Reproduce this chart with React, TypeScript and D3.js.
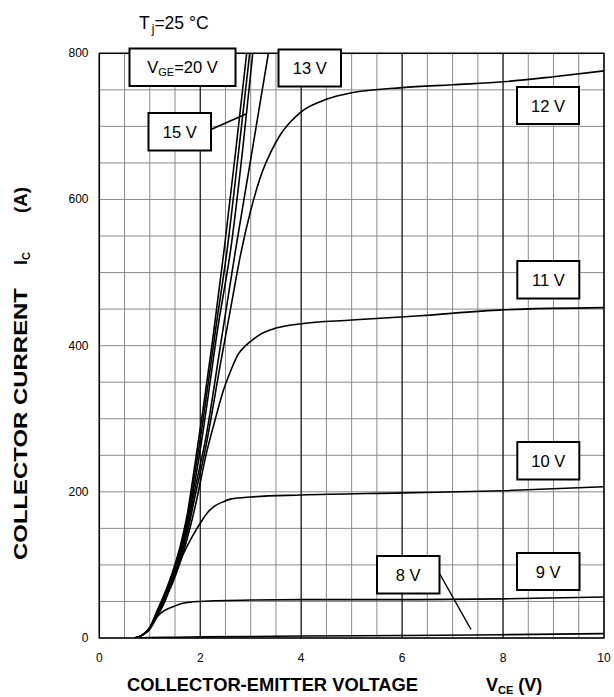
import React from "react";
import * as d3 from "d3";

type Pt = [number, number];

const xTicks = [0, 2, 4, 6, 8, 10];
const yTicks = [0, 200, 400, 600, 800];
const xMinor = d3.range(0, 10.01, 0.5);
const yMinor = d3.range(0, 800.1, 50);
const xMajor = [2, 4, 6, 8];

const curve20: Pt[] = [[0.7,0],[0.85,4],[1.0,14],[1.15,38],[1.3,62],[1.45,90],[1.6,125],[1.75,172],[1.9,240],[2.05,310],[2.25,410],[2.48,535],[2.7,665],[2.92,800],[3.0,850]];
const curve17: Pt[] = [[0.7,0],[0.85,4],[1.0,14],[1.15,37],[1.3,60],[1.45,87],[1.6,121],[1.75,166],[1.9,228],[2.05,295],[2.3,420],[2.54,535],[2.76,665],[2.98,800],[3.05,845]];
const curve15: Pt[] = [[0.7,0],[0.85,4],[1.0,14],[1.15,36],[1.3,58],[1.45,84],[1.6,117],[1.75,160],[1.9,216],[2.05,280],[2.35,425],[2.62,540],[2.84,668],[3.04,800],[3.1,840]];
const curve13: Pt[] = [[0.7,0],[0.85,4],[1.0,13],[1.15,35],[1.3,56],[1.45,81],[1.6,113],[1.75,153],[1.9,205],[2.1,270],[2.4,400],[2.7,531],[3.0,655],[3.2,738],[3.35,800],[3.45,845]];
const curve12: Pt[] = [[0.7,0],[0.85,4],[1.0,13],[1.15,34],[1.3,54],[1.45,78],[1.6,108],[1.75,146],[1.9,195],[2.1,258],[2.4,375],[2.6,450],[2.8,525],[3.0,585],[3.2,632],[3.4,665],[3.6,690],[3.8,707],[4.0,720],[4.5,737],[5,746],[6,753],[7,757],[8,761],[9,768],[10,776]];
const curve11: Pt[] = [[0.7,0],[0.85,4],[1.0,13],[1.15,33],[1.3,52],[1.45,75],[1.6,103],[1.75,138],[1.9,180],[2.13,255],[2.3,300],[2.46,339],[2.6,365],[2.75,388],[2.9,400],[3.0,406],[3.2,416],[3.5,424],[4.0,430],[5,435],[6.36,441],[8,449],[10,452]];
const curve10: Pt[] = [[0.7,0],[0.85,4],[1.0,12],[1.15,30],[1.3,50],[1.45,80],[1.6,105],[1.75,127],[1.9,146],[2.0,157],[2.15,172],[2.3,181],[2.46,186.5],[2.6,190],[3,193],[4,195.6],[6,198.5],[8,201.5],[10,207]];
const curve9: Pt[] = [[0.7,0],[0.85,4],[1.0,13],[1.1,25],[1.2,33],[1.3,38],[1.47,43],[1.6,46.5],[1.8,49],[2,50],[3,52],[4,52.5],[6,52.5],[8,53.5],[10,56]];
const curve8: Pt[] = [[0.7,0],[1.0,0.5],[1.5,1],[2,1.5],[3,2],[4,2.7],[6,3.5],[8,4.5],[10,6]];

const curves: Pt[][] = [curve20, curve17, curve15, curve13, curve12, curve11, curve10, curve9, curve8];

const boxLabels = [
  { t: "13 V", x: 278.5, y: 49.5, w: 62.5, h: 37 },
  { t: "15 V", x: 148.5, y: 113, w: 62.5, h: 37.5 },
  { t: "12 V", x: 517, y: 87, w: 62, h: 37 },
  { t: "11 V", x: 517.3, y: 261, w: 62, h: 37.5 },
  { t: "10 V", x: 517.3, y: 442, w: 62, h: 37.5 },
  { t: "9 V", x: 517, y: 553, w: 62.5, h: 37 },
  { t: "8 V", x: 377, y: 556, w: 62.5, h: 37.5 },
];

const FONT = "'Liberation Sans', Arial, Helvetica, sans-serif";

export default function App() {
  const left = 99.3, right = 604, top = 53.3, bottom = 638;
  const x = d3.scaleLinear().domain([0, 10]).range([left, right]);
  const y = d3.scaleLinear().domain([0, 800]).range([bottom, top]);
  const line = d3
    .line<Pt>()
    .x((d) => x(d[0]))
    .y((d) => y(d[1]))
    .curve(d3.curveMonotoneX);

  return (
    <svg
      width={614}
      height={697}
      style={{ position: "absolute", left: 0, top: 0, background: "#fff" }}
      fontFamily={FONT}
    >
      <defs>
        <clipPath id="plotclip">
          <rect x={left} y={top} width={right - left} height={bottom - top} />
        </clipPath>
      </defs>
      <rect x={0} y={0} width={614} height={697} fill="#fff" />
      {yMinor.map((v) => (
        <line key={"gy" + v} x1={left} x2={right} y1={y(v)} y2={y(v)} stroke="#8a8a8a" strokeWidth={1} />
      ))}
      {xMinor.map((v) => (
        <line key={"gx" + v} x1={x(v)} x2={x(v)} y1={top} y2={bottom} stroke="#8a8a8a" strokeWidth={1} />
      ))}
      {xMajor.map((v) => (
        <line key={"mx" + v} x1={x(v)} x2={x(v)} y1={top} y2={bottom} stroke="#000" strokeWidth={1} />
      ))}
      <rect x={left} y={top} width={right - left} height={bottom - top} fill="none" stroke="#000" strokeWidth={1.5} />

      <g clipPath="url(#plotclip)">
        {curves.map((c, i) => (
          <path key={i} d={line(c) || ""} fill="none" stroke="#000" strokeWidth={1.6} />
        ))}
      </g>

      <line x1={211} y1={129.5} x2={246} y2={114} stroke="#000" strokeWidth={1.5} />
      <line x1={439.5} y1={573.5} x2={471} y2={629.5} stroke="#000" strokeWidth={1.5} />

      <rect x={129.5} y={48.5} width={106} height={37.5} fill="#fff" stroke="#000" strokeWidth={2} />
      <text x={182.5} y={73} textAnchor="middle" fontSize={16.5}>
        <tspan>V</tspan>
        <tspan fontSize={11} dy={3}>GE</tspan>
        <tspan dy={-3}>=20 V</tspan>
      </text>

      {boxLabels.map((b) => (
        <g key={b.t + b.y}>
          <rect x={b.x} y={b.y} width={b.w} height={b.h} fill="#fff" stroke="#000" strokeWidth={2} />
          <text x={b.x + b.w / 2} y={b.y + b.h / 2 + 6} textAnchor="middle" fontSize={16.5}>
            {b.t}
          </text>
        </g>
      ))}

      {xTicks.map((v) => (
        <text key={"xt" + v} x={x(v)} y={662} textAnchor="middle" fontSize={12}>
          {v}
        </text>
      ))}
      {yTicks.map((v) => (
        <text key={"yt" + v} x={88.5} y={y(v) + 4} textAnchor="end" fontSize={12}>
          {v}
        </text>
      ))}

      <text x={139} y={29} fontSize={17.5}>
        <tspan>T</tspan>
        <tspan fontSize={12} dy={4} dx={2}>j</tspan>
        <tspan dy={-4}>=25 °C</tspan>
      </text>

      <text x={127} y={691} fontSize={18} fontWeight="bold" textLength={291} lengthAdjust="spacingAndGlyphs">
        COLLECTOR-EMITTER VOLTAGE
      </text>
      <text x={486} y={691} fontSize={18} fontWeight="bold">
        <tspan>V</tspan>
        <tspan fontSize={11} dy={3}>CE</tspan>
        <tspan dy={-3}> (V)</tspan>
      </text>

      <g transform="translate(27,0) rotate(-90)">
        <text x={-560} y={0} fontSize={18} fontWeight="bold" textLength={272} lengthAdjust="spacingAndGlyphs">
          COLLECTOR CURRENT
        </text>
        <text x={-265} y={0} fontSize={18} fontWeight="bold">
          <tspan>I</tspan>
          <tspan fontSize={11} dy={3}>C</tspan>
        </text>
        <text x={-213} y={0} fontSize={18} fontWeight="bold" textLength={26} lengthAdjust="spacingAndGlyphs">
          (A)
        </text>
      </g>
    </svg>
  );
}
